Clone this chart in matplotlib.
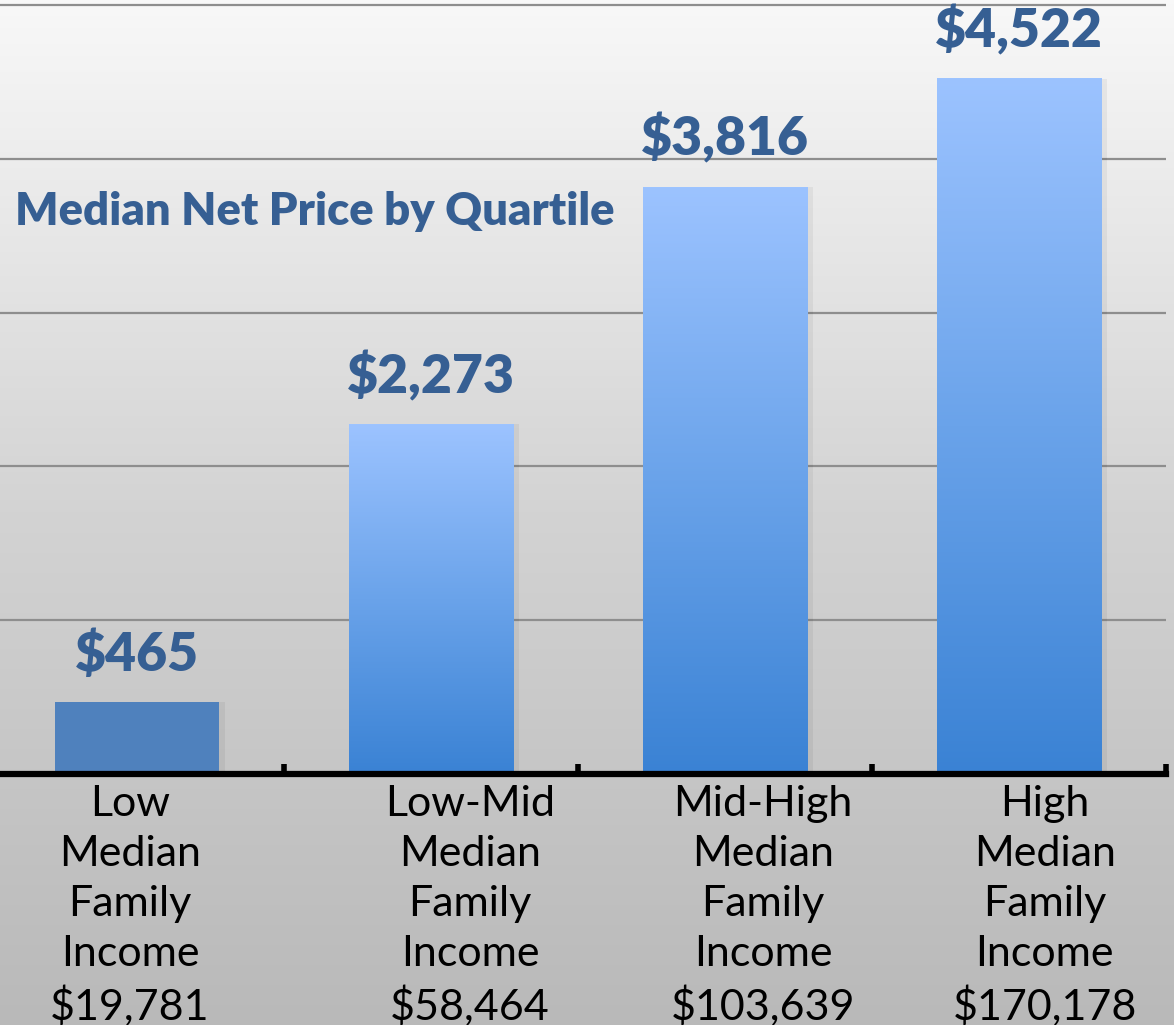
import numpy as np
import matplotlib.pyplot as plt
from matplotlib.colors import LinearSegmentedColormap

# data
quartiles = ['Low', 'Low-Mid', 'Mid-High', 'High']
family_income = ['$19,781', '$58,464', '$103,639', '$170,178']
net_price = [465, 2273, 3816, 4522]
price_labels = ['$465', '$2,273', '$3,816', '$4,522']

title_color = '#365f93'
bar_w = 0.56

fig = plt.figure(figsize=(11.74, 10.25), dpi=100)

# background gradient over whole figure
bg = fig.add_axes([0, 0, 1, 1], zorder=0)
grad = np.linspace(0, 1, 256).reshape(-1, 1)
bg_cmap = LinearSegmentedColormap.from_list('bg', ['#f8f8f8', '#d3d3d3', '#b9b9b9'])
bg.imshow(grad, aspect='auto', cmap=bg_cmap, extent=[0, 1, 0, 1], origin='upper')
bg.axis('off')

ax = fig.add_axes([-10 / 1174, 251 / 1025, 1176 / 1174, 774 / 1025], zorder=1)
ax.patch.set_alpha(0)

# gridlines
ax.set_yticks([1000, 2000, 3000, 4000, 5000])
ax.yaxis.grid(True, color='#8e8e8e', linewidth=1.6)
ax.set_axisbelow(True)
ax.tick_params(axis='y', left=False, labelleft=False)

for s in ['top', 'right', 'left']:
    ax.spines[s].set_visible(False)
ax.spines['bottom'].set_linewidth(4.5)
ax.spines['bottom'].set_color('black')
ax.spines['bottom'].set_zorder(5)

ax.set_xticks([0, 1, 2, 3])
ax.set_xticklabels([])
ax.tick_params(axis='x', which='major', length=0)
ax.set_xticks([0.5, 1.5, 2.5, 3.5], minor=True)
ax.tick_params(axis='x', which='minor', direction='in', length=7, width=4, color='black')

bar_cmap = LinearSegmentedColormap.from_list('bar', ['#3a82d4', '#6aa3ea', '#9cc3ff'])
for i, v in enumerate(net_price):
    # soft shadow
    ax.bar(i + 0.01, v, width=bar_w + 0.02, color='black', alpha=0.05, zorder=2)
    if i == 0:
        ax.bar(i, v, width=bar_w, color='#4f81bd', zorder=3)
    else:
        ax.imshow(grad[::-1], aspect='auto', cmap=bar_cmap,
                  extent=[i - bar_w / 2, i + bar_w / 2, 0, v], origin='upper', zorder=3)
    ax.annotate(price_labels[i], (i, v), xytext=(0, 22.5), textcoords='offset points',
                ha='center', va='baseline', fontsize=38.5, fontweight='heavy',
                family='Lato', color=title_color, zorder=4)
ax.set_xlim(-0.5, 3.5)
ax.set_ylim(0, 5033)

# category labels under axis
label_shift = [-0.024, 0.133, 0.129, 0.088]
for i in range(len(quartiles)):
    txt = quartiles[i] + '\nMedian\nFamily\nIncome\n' + family_income[i]
    ax.text(i + label_shift[i], -0.014, txt, transform=ax.get_xaxis_transform(),
            ha='center', va='top', fontsize=31, family='Lato', fontweight='normal',
            linespacing=1.385, color='black', clip_on=False)

fig.text(15 / 1174, (1025 - 225) / 1025, 'Median Net Price by Quartile',
         fontsize=32.7, fontweight='heavy', family='Lato', color=title_color,
         ha='left', va='baseline')

fig.savefig('out.png', dpi=100)
